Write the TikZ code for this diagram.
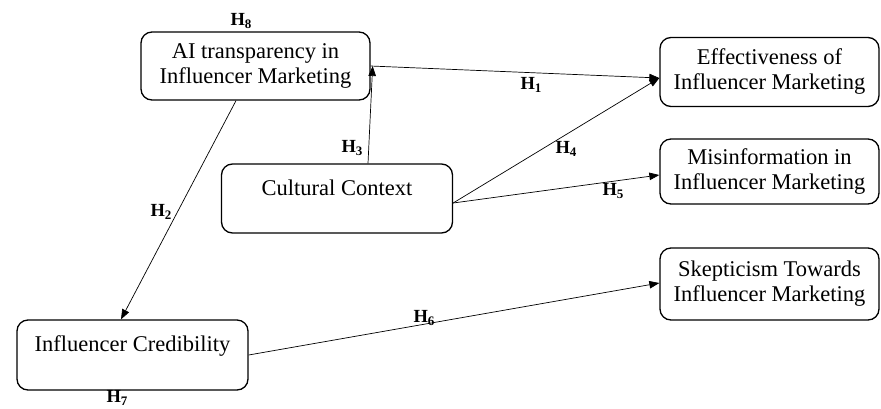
\documentclass[tikz,border=0pt]{standalone}
\usepackage{fontspec}
\setmainfont{Liberation Serif}
\usetikzlibrary{arrows.meta}
\newcommand{\hyp}[1]{H\raisebox{-2.5pt}{\fontsize{13}{13}\selectfont #1}}
\begin{document}
\begin{tikzpicture}[x=1pt,y=-1pt,
  box/.style={draw, line width=1.3pt, rounded corners=11pt, align=center, font=\fontsize{22.5}{25}\selectfont, inner sep=0pt},
  arr/.style={draw, line width=0.7pt, -{Triangle[length=10pt,width=7.5pt]}},
  hlab/.style={font=\fontsize{18.5}{20}\selectfont\bfseries, inner sep=0pt}]
\useasboundingbox (0,0) rectangle (881,408);
\node[box, minimum width=229pt, minimum height=68pt] (ai) at (255.5,66) {AI transparency in\\Influencer Marketing};
\node[box, minimum width=219pt, minimum height=69pt] (eff) at (769.5,72) {Effectiveness of\\Influencer Marketing};
\node[box, minimum width=219pt, minimum height=65pt] (mis) at (769.5,171.5) {Misinformation in\\Influencer Marketing};
\node[box, minimum width=219pt, minimum height=72pt] (skep) at (769.5,284) {Skepticism Towards\\Influencer Marketing};
\node[box, minimum width=231pt, minimum height=69pt] (cult) at (337,198.5) {Cultural Context\\[-4pt]};
\node[box, minimum width=231pt, minimum height=70pt] (cred) at (132.5,355) {Influencer Credibility\\[-2pt]};

\draw[arr] (ai.east) -- ([yshift=-6pt]eff.west);
\draw[arr] ([xshift=31pt]cult.north) -- ([xshift=2pt]ai.east);
\draw[arr] ([yshift=-4.5pt]cult.east) -- ([yshift=-6pt]eff.west);
\draw[arr] ([yshift=-4.5pt]cult.east) -- ([yshift=-3.5pt]mis.west);
\draw[arr] ([xshift=-19.5pt]ai.south) -- ([xshift=-11.5pt]cred.north);
\draw[arr] (cred.east) -- ([yshift=1pt]skep.west);

\node[hlab] (h1) at (531,85) {\hyp{1}};
\node[hlab] (h2) at (161,212) {\hyp{2}};
\node[hlab] (h3) at (352,148) {\hyp{3}};
\node[hlab] (h4) at (566,149) {\hyp{4}};
\node[hlab] (h5) at (613,191) {\hyp{5}};
\node[hlab] (h6) at (424,318) {\hyp{6}};
\node[hlab] (h7) at (117,398) {\hyp{7}};
\node[hlab] (h8) at (241,21) {\hyp{8}};
\end{tikzpicture}
\end{document}
